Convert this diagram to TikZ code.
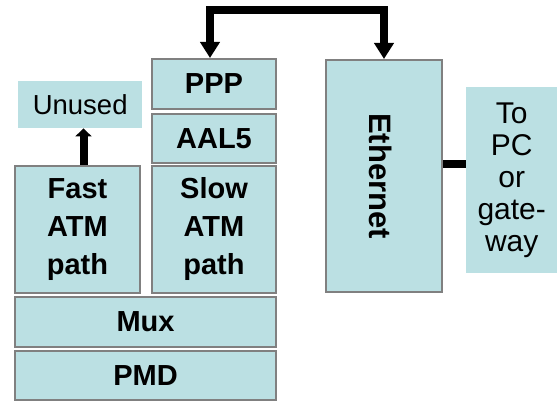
\documentclass[tikz,border=0pt]{standalone}
\usepackage{fontspec}
\usepackage{graphicx}
\setmainfont{Liberation Sans}
\usetikzlibrary{arrows.meta}
\definecolor{boxfill}{RGB}{187,224,227}
\definecolor{boxline}{RGB}{128,128,128}
\tikzset{
  layer/.style={draw=boxline, line width=2pt, fill=boxfill, inner sep=0pt, anchor=north west, align=center, font=\fontsize{29}{38}\selectfont\bfseries},
  plainbox/.style={fill=boxfill, inner sep=0pt, anchor=north west, align=center},
  conn/.style={line width=8pt, line join=miter, line cap=butt},
  bigtip/.tip={Triangle[length=16pt,width=19pt]},
  smalltip/.tip={Triangle[length=8pt,width=16pt]}
}
\begin{document}
\begin{tikzpicture}[x=1pt,y=-1pt]
\useasboundingbox (0,0) rectangle (557,401);
\node[layer, minimum width=124pt, minimum height=50pt] (ppp) at (151,58) {PPP};
\node[layer, minimum width=124pt, minimum height=49pt] (aal5) at (151,113) {AAL5};
\node[layer, minimum width=124pt, minimum height=127pt] (slow) at (151,165) {Slow\\ATM\\path};
\node[layer, minimum width=125pt, minimum height=127pt] (fast) at (14,165) {Fast\\ATM\\path};
\node[layer, minimum width=261pt, minimum height=50pt] (mux) at (14,296) {Mux};
\node[layer, minimum width=261pt, minimum height=49pt] (pmd) at (14,350) {PMD};
\node[layer, minimum width=116pt, minimum height=232pt, font=\fontsize{31}{36}\selectfont\bfseries] (eth) at (325,59) {\hspace*{-6pt}\rotatebox{-90}{Ethernet}};
\node[plainbox, minimum width=124pt, minimum height=47pt, font=\fontsize{27.5}{30}\selectfont] (unused) at (18,81) {Unused};
\node[plainbox, minimum width=91pt, minimum height=186pt, font=\fontsize{30}{32}\selectfont] (topc) at (466,87) {To\\PC\\or\\gate-\\way};
\coordinate (top) at (300,10);
\coordinate (ethy) at (450,164);
\draw[conn, bigtip-bigtip] ([xshift=-4pt]ppp.north) |- (top) -| (eth.north);
\draw[conn, -smalltip] ([xshift=6pt]fast.north) -- ([xshift=6pt]fast.north |- unused.south);
\draw[conn] (eth.east |- ethy) -- (topc.west |- ethy);
\end{tikzpicture}
\end{document}
